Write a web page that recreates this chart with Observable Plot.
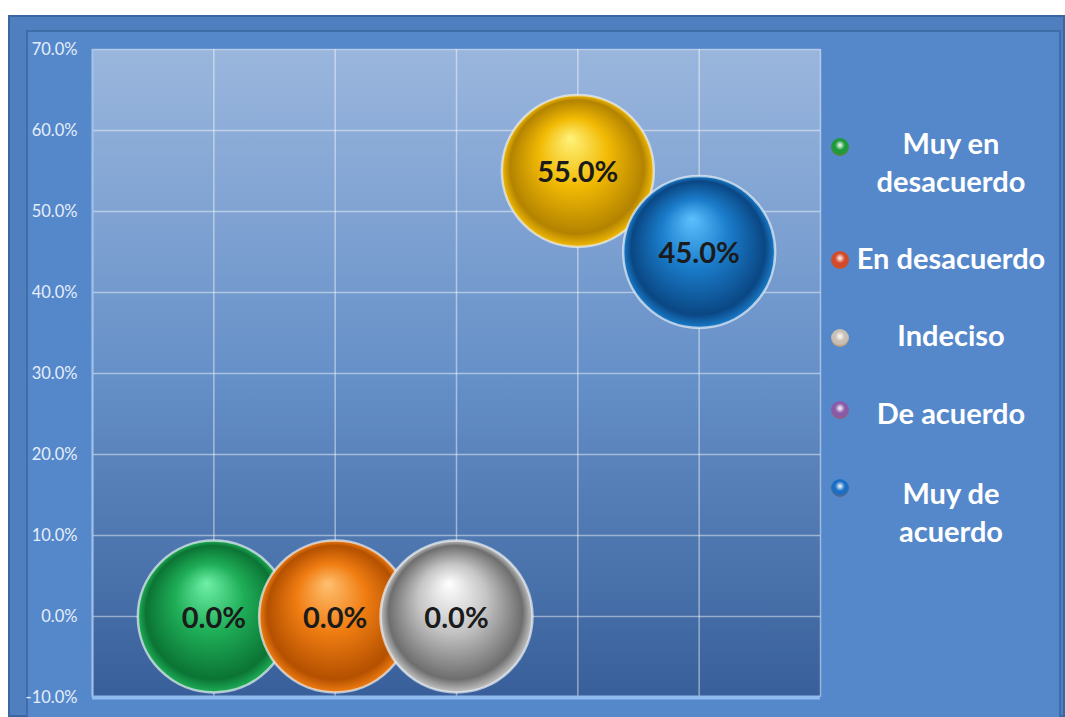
<!DOCTYPE html>
<html>
<head>
<meta charset="utf-8">
<script src="https://cdn.jsdelivr.net/npm/d3@7"></script>
<script src="https://cdn.jsdelivr.net/npm/@observablehq/plot@0.6"></script>
<style>
  html, body { margin: 0; padding: 0; background: #ffffff; }
  #wrap { position: relative; width: 1065px; height: 717px; overflow: hidden; }
  #outer { position: absolute; left: 8px; top: 15px; width: 1057px; height: 702px; box-sizing: border-box;
           background: #4f7fbf; border: 2px solid #3a679f; }
  #inner { position: absolute; left: 26px; top: 30px; width: 1035px; height: 690px; box-sizing: border-box;
           background: #5588cb; border-left: 2px solid #3f6da8; border-top: 2px solid #3f6da8; border-right: 2px solid #3f6da8; }
  #chart { position: absolute; left: 0; top: 0; }
  #chart g[aria-label="y-axis tick label"] { font-size: 16.5px; }
  .leg { position: absolute; left: 848px; width: 206px; text-align: center; color: #ffffff;
         font-family: Lato, "Open Sans", sans-serif; font-weight: 700; font-size: 29px; line-height: 38px; }
  .sph { position: absolute; left: 831px; width: 18px; height: 18px; border-radius: 50%; }
</style>
</head>
<body>
<div id="wrap">
  <div id="outer"></div>
  <div id="inner"></div>
  <div id="chart"></div>
  <div id="legend"></div>
</div>
<script>
// ---- data ----
const categories = ["Muy en desacuerdo", "En desacuerdo", "Indeciso", "De acuerdo", "Muy de acuerdo"];
const xValues = [1, 2, 3, 4, 5];
const values = [0.0, 0.0, 0.0, 0.55, 0.45];
const bubbleSizes = [1, 1, 1, 1, 1];
const yTicks = [-0.1, 0, 0.1, 0.2, 0.3, 0.4, 0.5, 0.6, 0.7];
const xGrid = [0, 1, 2, 3, 4, 5, 6];
// bubble gradient colours: [highlight, mid, edge]
const bubbleColors = [
  ["#6ff0a8", "#1fae58", "#0b7434"],
  ["#ffc070", "#f07d12", "#b45000"],
  ["#ffffff", "#c4c4c4", "#6e6e6e"],
  ["#fff27a", "#f2ba04", "#b38300"],
  ["#5cc0ff", "#1a7cca", "#0a4784"]
];
const legendColors = ["#1e9a3a", "#d4492a", "#c8c0b4", "#8a5aa8", "#1a6fc4"];
const legendLines = [["Muy en", "desacuerdo"], ["En desacuerdo"], ["Indeciso"], ["De acuerdo"], ["Muy de", "acuerdo"]];

const data = categories.map((c, i) => ({category: c, x: xValues[i], y: values[i], size: bubbleSizes[i], i}));
const fmt = d => (d * 100).toFixed(1) + "%";

// gradient definitions as a render-function mark
function defsMark() {
  const defs = d3.create("svg:defs");
  const bg = defs.append("linearGradient").attr("id", "plotbg").attr("x1", 0).attr("y1", 0).attr("x2", 0).attr("y2", 1);
  bg.append("stop").attr("offset", "0%").attr("stop-color", "#9ab6dd");
  bg.append("stop").attr("offset", "50%").attr("stop-color", "#6690c8");
  bg.append("stop").attr("offset", "100%").attr("stop-color", "#385f99");
  bubbleColors.forEach((c, i) => {
    const g = defs.append("radialGradient").attr("id", "bub" + i)
      .attr("cx", "50%").attr("cy", "50%").attr("r", "50%").attr("fx", "45%").attr("fy", "28%");
    g.append("stop").attr("offset", "0%").attr("stop-color", c[0]);
    g.append("stop").attr("offset", "45%").attr("stop-color", c[1]);
    g.append("stop").attr("offset", "88%").attr("stop-color", c[2]);
    g.append("stop").attr("offset", "100%").attr("stop-color", c[1]);
  });
  return defs.node();
}

const chart = Plot.plot({
  width: 1065,
  height: 717,
  marginLeft: 92,
  marginRight: 245,
  marginTop: 49,
  marginBottom: 20,
  style: {background: "transparent", fontFamily: "Lato, 'Open Sans', sans-serif", fontSize: "16px", color: "#e6eef9", overflow: "visible"},
  x: {domain: [0, 6], axis: null},
  y: {domain: [-0.1, 0.7], axis: null},
  marks: [
    defsMark,
    Plot.frame({fill: "url(#plotbg)", stroke: "none"}),
    Plot.gridY(yTicks, {stroke: "#ffffff", strokeOpacity: 0.45, strokeWidth: 1.5}),
    Plot.gridX(xGrid, {stroke: "#ffffff", strokeOpacity: 0.45, strokeWidth: 1.5}),
    Plot.ruleX([0], {stroke: "#9cc0ea", strokeWidth: 2}),
    Plot.ruleY([-0.1], {stroke: "#8fbcef", strokeWidth: 4}),
    Plot.axisY(yTicks, {tickSize: 0, tickPadding: 15, tickFormat: fmt, label: null, fill: "#e6eef9", fontSize: 16}),
    ...data.map(d => Plot.dot([d], {x: "x", y: "y", r: 76, fill: `url(#bub${d.i})`, stroke: "#e8eef5", strokeOpacity: 0.7, strokeWidth: 2.5})),
    Plot.text(data, {x: "x", y: "y", dy: 2, text: d => fmt(d.y), fill: "#1b1b1b", fontSize: 29, fontWeight: 700})
  ]
});
document.getElementById("chart").appendChild(chart);

// legend
const legendTops = [124, 239, 316, 394, 474];
const sphereTops = [138, 251, 329, 401, 479];
const leg = document.getElementById("legend");
categories.forEach((c, i) => {
  const s = document.createElement("div");
  s.className = "sph";
  s.style.top = sphereTops[i] + "px";
  s.style.background = `radial-gradient(circle at 50% 40%, #ffffff 0%, ${legendColors[i]} 35%, ${legendColors[i]} 55%, #b0602c 100%)`;
  leg.appendChild(s);
  const t = document.createElement("div");
  t.className = "leg";
  t.style.top = legendTops[i] + "px";
  t.innerHTML = legendLines[i].map(l => `<div>${l}</div>`).join("");
  leg.appendChild(t);
});
</script>
</body>
</html>
